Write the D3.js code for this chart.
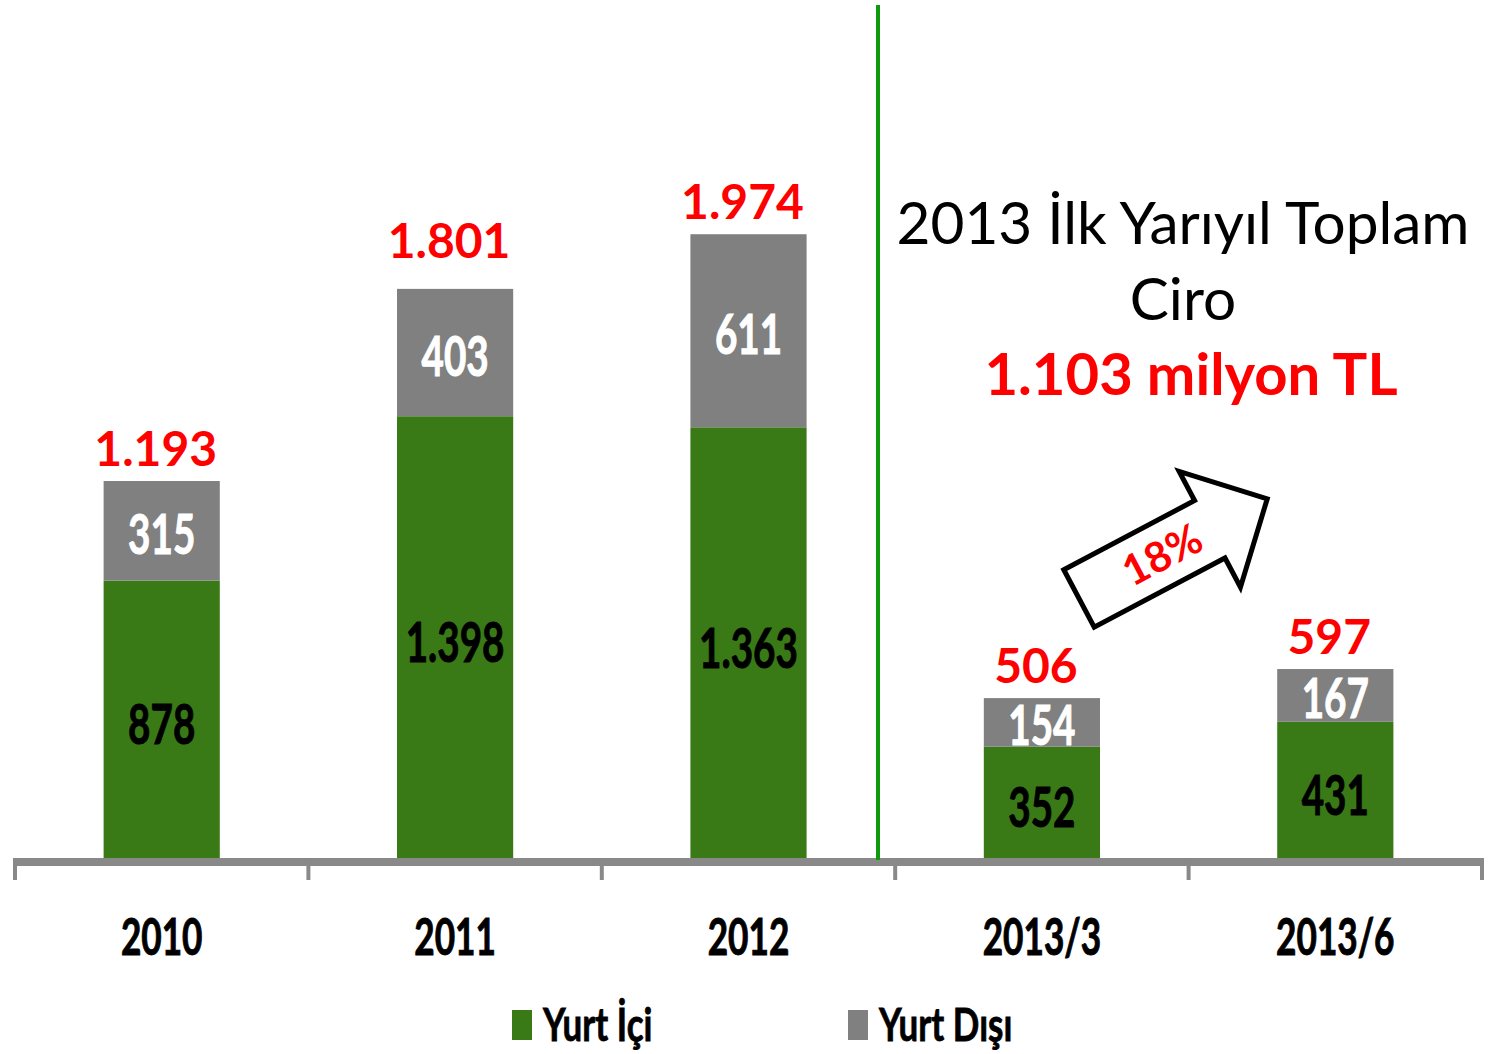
<!DOCTYPE html>
<html>
<head>
<meta charset="utf-8">
<script src="https://cdn.jsdelivr.net/npm/d3@7"></script>
<style>
  body { margin: 0; background: #fff; }
  svg { display: block; }
</style>
</head>
<body>
<div id="grafik"></div>
<script>
// veriler
const donemler = ["2010", "2011", "2012", "2013/3", "2013/6"];
const yurtIci = [878, 1398, 1363, 352, 431];
const yurtDisi = [315, 403, 611, 154, 167];
const toplamEtiket = ["1.193", "1.801", "1.974", "506", "597"];
const yurtIciEtiket = ["878", "1.398", "1.363", "352", "431"];
const yurtDisiEtiket = ["315", "403", "611", "154", "167"];
const seriAdlari = ["Yurt İçi", "Yurt Dışı"];
const baslikSatirlari = ["2013 İlk Yarıyıl Toplam", "Ciro"];
const toplamCiro = "1.103 milyon TL";
const artisOrani = "18%";

function ciz() {
    const width = 1493;
    const height = 1054;
    const yesil = "#3a7a16";
    const gri = "#808080";
    const daralt = 0.69; // dar yazi icin yatay olcek

    const svg = d3.select("#grafik")
        .append("svg")
        .attr("width", width)
        .attr("height", height);

    const x = d3.scaleBand()
        .domain(donemler)
        .range([15, 1482])
        .padding(0);

    const y = d3.scaleLinear()
        .domain([0, 2000])
        .range([858, 226]);

    const barW = x.bandwidth() * 0.396;
    const cx = d => x(d) + x.bandwidth() / 2;

    const veri = donemler.map((d, i) => ({
        donem: d, ic: yurtIci[i], dis: yurtDisi[i],
        top: toplamEtiket[i], icE: yurtIciEtiket[i], disE: yurtDisiEtiket[i]
    }));

    // bars
    const g = svg.append("g");
    g.selectAll(".ic").data(veri).enter().append("rect")
        .attr("x", d => cx(d.donem) - barW / 2)
        .attr("width", barW)
        .attr("y", d => y(d.ic))
        .attr("height", d => y(0) - y(d.ic))
        .attr("fill", yesil);

    g.selectAll(".dis").data(veri).enter().append("rect")
        .attr("x", d => cx(d.donem) - barW / 2)
        .attr("width", barW)
        .attr("y", d => y(d.ic + d.dis))
        .attr("height", d => y(d.ic) - y(d.ic + d.dis))
        .attr("fill", gri);

    // condensed label helper
    function darYazi(sel, fx, fy, size, color) {
        sel.attr("transform", d => `translate(${fx(d)},${fy(d)}) scale(${daralt},1)`)
            .attr("text-anchor", "middle")
            .attr("font-family", "Lato, sans-serif")
            .attr("font-weight", "bold")
            .attr("font-size", size)
            .attr("fill", color)
            .attr("stroke", color)
            .attr("stroke-width", 1);
    }

    g.selectAll(".icE").data(veri).enter().append("text")
        .text(d => d.icE)
        .call(darYazi, d => cx(d.donem), d => (y(0) + y(d.ic)) / 2 + 25, 56, "#000");

    g.selectAll(".disE").data(veri).enter().append("text")
        .text(d => d.disE)
        .call(darYazi, d => cx(d.donem), d => (y(d.ic) + y(d.ic + d.dis)) / 2 + 23, 56, "#fff");

    // 2011 etiketi Excel'de biraz yukari kaydirilmis
    const ustBosluk = d => d.donem === "2011" ? 31 : 15;
    g.selectAll(".top").data(veri).enter().append("text")
        .attr("x", d => cx(d.donem) - 6)
        .attr("y", d => y(d.ic + d.dis) - ustBosluk(d))
        .attr("text-anchor", "middle")
        .attr("font-family", "Lato, sans-serif")
        .attr("font-weight", "bold")
        .attr("font-size", 48)
        .attr("fill", "#ff0000")
        .text(d => d.top);

    // axis
    const eksen = svg.append("g");
    eksen.append("line")
        .attr("x1", 15).attr("x2", 1482)
        .attr("y1", 862).attr("y2", 862)
        .attr("stroke", "#898989").attr("stroke-width", 8);
    const tikler = donemler.map(d => x(d)).concat([x.range()[1]]);
    eksen.selectAll(".tik").data(tikler).enter().append("line")
        .attr("x1", d => d).attr("x2", d => d)
        .attr("y1", 858).attr("y2", 880)
        .attr("stroke", "#898989").attr("stroke-width", 4);

    eksen.selectAll(".etiket").data(donemler).enter().append("text")
        .text(d => d)
        .call(darYazi, d => cx(d), () => 955, 51, "#000");

    // divider
    svg.append("line")
        .attr("x1", 878).attr("x2", 878)
        .attr("y1", 5).attr("y2", 860)
        .attr("stroke", "#0f990f").attr("stroke-width", 4);

    // annotation
    baslikSatirlari.forEach((s, i) => {
        svg.append("text")
            .attr("x", 1183).attr("y", 244 + i * 76)
            .attr("text-anchor", "middle")
            .attr("font-family", "Lato, sans-serif")
            .attr("font-size", 58.5)
            .attr("fill", "#000")
            .text(s);
    });
    svg.append("text")
        .attr("x", 1191).attr("y", 395)
        .attr("text-anchor", "middle")
        .attr("font-family", "Lato, sans-serif")
        .attr("font-weight", "bold")
        .attr("font-size", 58)
        .attr("fill", "#ff0000")
        .text(toplamCiro);

    // arrow
    const govdeU = 148, basU = 65, govdeG = 65, basG = 131;
    const ok = d3.path();
    ok.moveTo(0, -govdeG / 2);
    ok.lineTo(govdeU, -govdeG / 2);
    ok.lineTo(govdeU, -basG / 2);
    ok.lineTo(govdeU + basU, 0);
    ok.lineTo(govdeU, basG / 2);
    ok.lineTo(govdeU, govdeG / 2);
    ok.lineTo(0, govdeG / 2);
    ok.closePath();
    const okG = svg.append("g")
        .attr("transform", "translate(1079,598.5) rotate(-27.9)");
    okG.append("path")
        .attr("d", ok.toString())
        .attr("fill", "#fff")
        .attr("stroke", "#000")
        .attr("stroke-width", 5)
        .attr("stroke-linejoin", "miter");
    okG.append("text")
        .attr("x", 94).attr("y", 15)
        .attr("text-anchor", "middle")
        .attr("font-family", "Lato, sans-serif")
        .attr("font-weight", "bold")
        .attr("font-size", 42)
        .attr("fill", "#ff0000")
        .text(artisOrani);

    // legend
    const lej = svg.append("g");
    const lejX = [512, 848];
    [yesil, gri].forEach((c, i) => {
        lej.append("rect")
            .attr("x", lejX[i]).attr("y", 1010)
            .attr("width", 20).attr("height", 30)
            .attr("fill", c);
        lej.append("text")
            .attr("transform", `translate(${lejX[i] + 31},1041) scale(0.76,1)`)
            .attr("font-family", "Lato, sans-serif")
            .attr("font-weight", "bold")
            .attr("font-size", 46)
            .attr("fill", "#000")
            .attr("stroke", "#000")
            .attr("stroke-width", 0.8)
            .text(seriAdlari[i]);
    });
}

ciz();
</script>
</body>
</html>
